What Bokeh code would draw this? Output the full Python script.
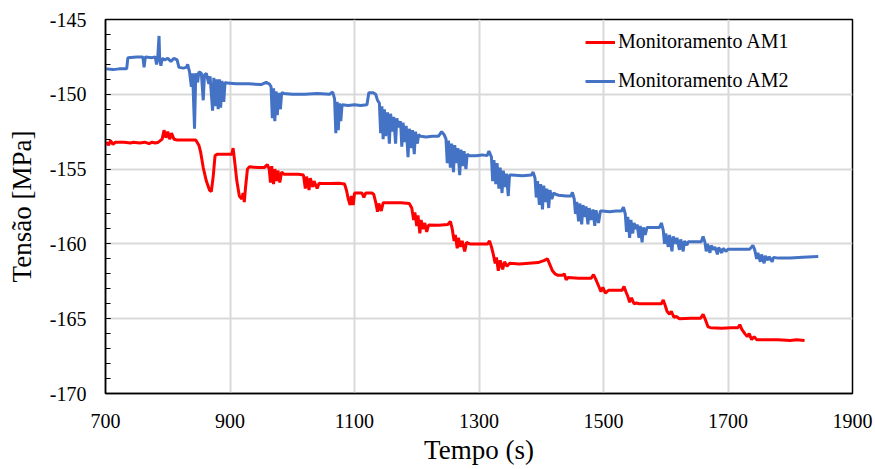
from bokeh.plotting import figure
from bokeh.models import Range1d, FixedTicker, Legend, LegendItem, CustomJSTickFormatter
from bokeh.embed import file_html
from bokeh.resources import INLINE

# ---------------- data ----------------
am1_t = [701, 705, 708, 712, 716, 730, 740, 745, 755, 763, 770, 775, 780, 785, 791, 794, 797, 800, 803, 806,
         810, 815, 830, 845, 850, 853, 857, 862, 867, 870, 873, 876, 880, 895, 903, 905, 907, 911, 915, 919,
         921, 923, 925, 928, 931, 945, 955, 960, 963, 965, 967, 970, 972, 975, 977, 980, 983, 987, 1000, 1010,
         1018, 1021, 1023, 1027, 1029, 1033, 1035, 1040, 1043, 1047, 1060, 1075, 1084, 1087, 1090, 1093, 1095, 1098, 1100, 1112,
         1115, 1118, 1128, 1131, 1134, 1137, 1139, 1143, 1146, 1160, 1175, 1188, 1192, 1195, 1197, 1200, 1202, 1205, 1207, 1210,
         1213, 1216, 1219, 1235, 1250, 1254, 1257, 1260, 1262, 1265, 1267, 1270, 1273, 1277, 1280, 1285, 1300, 1314, 1317, 1320,
         1323, 1326, 1328, 1331, 1334, 1338, 1341, 1345, 1349, 1365, 1380, 1395, 1405, 1410, 1414, 1418, 1422, 1427, 1434, 1437,
         1440, 1443, 1460, 1480, 1484, 1488, 1492, 1496, 1499, 1503, 1508, 1520, 1530, 1533, 1536, 1539, 1542, 1545, 1549, 1553,
         1557, 1570, 1585, 1593, 1596, 1599, 1602, 1606, 1609, 1613, 1617, 1622, 1640, 1656, 1660, 1664, 1668, 1672, 1690, 1705,
         1716, 1719, 1722, 1727, 1731, 1734, 1738, 1742, 1746, 1760, 1780, 1800, 1810, 1823]
am1_v = [-153.2, -153.4, -153.1, -153.35, -153.2, -153.2, -153.25, -153.2, -153.25, -153.2, -153.3, -153.2, -153.25, -153.2, -153.0, -152.4, -152.9, -152.5, -153.0, -152.6,
         -153.0, -153.05, -153.05, -153.05, -153.4, -153.9, -154.9, -155.8, -156.4, -156.5, -155.5, -154.1, -154.0, -154.0, -154.0, -153.6, -154.3, -155.8, -156.8, -157.0,
         -156.6, -157.2, -156.2, -155.0, -154.85, -154.9, -154.9, -154.7, -155.0, -155.9, -154.8, -156.0, -155.0, -155.8, -155.1, -155.9, -155.2, -155.35, -155.35, -155.35,
         -155.4, -156.3, -155.5, -156.4, -155.6, -156.2, -155.8, -156.3, -155.95, -155.97, -155.97, -155.95, -156.0, -156.4, -157.0, -157.4, -156.8, -157.4, -156.6, -156.6,
         -156.9, -156.6, -156.6, -156.7, -157.2, -157.85, -157.3, -157.8, -157.25, -157.25, -157.25, -157.3, -157.6, -158.4, -157.9, -158.8, -158.1, -159.3, -158.4, -159.0,
         -158.6, -159.2, -158.74, -158.75, -158.7, -158.5, -159.0, -159.8, -159.4, -160.3, -159.6, -160.2, -159.8, -160.5, -159.9, -160.0, -160.0, -160.0, -159.8, -160.2,
         -160.7, -161.3, -160.9, -161.8, -161.1, -161.7, -161.2, -161.5, -161.3, -161.35, -161.3, -161.25, -161.1, -161.0, -161.4, -161.8, -162.0, -162.1, -162.1, -162.0,
         -162.4, -162.25, -162.3, -162.3, -162.05, -162.4, -162.8, -163.2, -162.9, -163.3, -163.1, -163.1, -163.1, -162.85, -163.2, -163.5, -163.9, -163.6, -164.0, -163.95,
         -164.0, -164.0, -164.0, -164.0, -163.75, -164.1, -164.5, -164.7, -164.5, -164.9, -164.85, -165.0, -164.97, -164.97, -164.7, -165.1, -165.55, -165.6, -165.64, -165.6,
         -165.6, -165.4, -165.7, -166.0, -166.2, -166.0, -166.4, -166.2, -166.4, -166.4, -166.4, -166.45, -166.4, -166.45]

am2_t = [701, 712, 722, 734, 736, 750, 760, 762, 764, 775, 780, 782, 784, 786, 787, 789, 791, 795, 800, 805,
         810, 815, 818, 825, 830, 832, 835, 838, 840, 843, 845, 848, 850, 854, 857, 859, 862, 866, 868, 872,
         874, 877, 879, 881, 883, 885, 887, 890, 892, 895, 910, 930, 950, 958, 963, 966, 968, 970, 972, 974,
         976, 978, 981, 983, 987, 1000, 1020, 1040, 1060, 1065, 1068, 1070, 1072, 1074, 1076, 1078, 1080, 1090, 1100, 1110,
         1120, 1123, 1130, 1134, 1137, 1140, 1142, 1144, 1146, 1148, 1150, 1153, 1156, 1158, 1161, 1163, 1166, 1168, 1171, 1174,
         1176, 1178, 1181, 1183, 1186, 1188, 1191, 1193, 1196, 1198, 1201, 1203, 1206, 1215, 1225, 1235, 1240, 1244, 1247, 1249,
         1251, 1254, 1256, 1259, 1261, 1264, 1266, 1269, 1271, 1274, 1276, 1279, 1281, 1284, 1295, 1305, 1313, 1316, 1320, 1322,
         1324, 1327, 1329, 1332, 1334, 1337, 1339, 1342, 1344, 1347, 1349, 1352, 1370, 1384, 1387, 1390, 1392, 1394, 1397, 1399,
         1402, 1404, 1407, 1409, 1412, 1414, 1417, 1420, 1424, 1428, 1440, 1448, 1450, 1453, 1455, 1457, 1460, 1462, 1465, 1467,
         1470, 1472, 1475, 1477, 1480, 1483, 1486, 1488, 1492, 1495, 1498, 1510, 1520, 1529, 1532, 1535, 1537, 1539, 1542, 1544,
         1547, 1549, 1552, 1554, 1557, 1559, 1562, 1564, 1567, 1570, 1573, 1590, 1593, 1596, 1598, 1600, 1604, 1606, 1610, 1612,
         1616, 1618, 1622, 1624, 1628, 1630, 1634, 1636, 1657, 1660, 1663, 1665, 1667, 1671, 1673, 1677, 1679, 1683, 1685, 1690,
         1692, 1697, 1700, 1735, 1740, 1743, 1746, 1748, 1752, 1754, 1758, 1760, 1764, 1766, 1771, 1773, 1781, 1800, 1820, 1845]
am2_v = [-148.3, -148.35, -148.3, -148.3, -147.55, -147.5, -147.5, -148.2, -147.5, -147.55, -147.5, -148.0, -147.5, -146.1, -147.6, -148.1, -147.6, -147.7, -147.6, -147.8,
         -147.6, -147.7, -148.2, -148.25, -148.2, -148.0, -148.5, -149.5, -148.6, -152.3, -148.6, -149.2, -148.5, -148.6, -150.4, -148.7, -148.6, -149.3, -148.8, -151.1,
         -148.9, -150.8, -149.0, -151.0, -149.0, -150.9, -149.1, -150.5, -149.2, -149.25, -149.3, -149.3, -149.35, -149.2, -149.3, -149.5, -151.6, -149.6, -151.8, -149.8,
         -151.4, -149.9, -151.0, -149.9, -149.95, -150.0, -150.0, -149.95, -150.0, -149.85, -150.3, -152.6, -150.5, -152.4, -150.6, -151.8, -150.7, -150.75, -150.7, -150.75,
         -150.7, -149.9, -149.9, -150.0, -150.4, -150.6, -152.6, -150.8, -153.0, -151.0, -152.8, -151.2, -153.3, -151.3, -152.5, -151.5, -153.3, -151.6, -152.2, -151.8,
         -153.5, -151.9, -153.2, -152.1, -154.2, -152.3, -153.6, -152.4, -154.0, -152.5, -153.3, -152.7, -152.8, -152.85, -152.8, -152.8, -152.5, -152.7, -153.0, -154.6,
         -153.1, -154.9, -153.3, -155.2, -153.4, -154.6, -153.6, -155.4, -153.7, -154.8, -153.8, -155.0, -154.0, -154.1, -154.1, -154.05, -154.1, -153.8, -154.2, -155.8,
         -154.4, -156.0, -154.6, -156.3, -154.9, -156.6, -155.1, -156.2, -155.3, -156.8, -155.4, -155.4, -155.45, -155.4, -155.2, -155.6, -156.9, -155.8, -157.4, -156.0,
         -157.7, -156.1, -157.2, -156.3, -157.6, -156.4, -157.0, -156.6, -156.7, -156.75, -156.8, -156.8, -156.55, -157.0, -158.0, -157.2, -158.5, -157.3, -158.7, -157.4,
         -158.2, -157.5, -158.7, -157.6, -158.4, -157.7, -158.8, -157.75, -158.6, -157.8, -157.8, -157.85, -157.8, -157.8, -157.55, -158.0, -159.2, -158.2, -159.6, -158.4,
         -159.3, -158.6, -159.0, -158.7, -159.6, -158.8, -159.9, -158.9, -159.4, -158.9, -158.9, -158.9, -158.6, -159.1, -160.0, -159.3, -160.2, -159.4, -160.5, -159.5,
         -160.0, -159.6, -160.4, -159.7, -160.5, -159.8, -160.1, -159.85, -159.85, -159.5, -159.9, -160.5, -160.0, -160.6, -160.1, -160.4, -160.2, -160.7, -160.25, -160.6,
         -160.3, -160.5, -160.35, -160.35, -160.1, -160.4, -161.0, -160.6, -161.2, -160.7, -161.3, -160.8, -161.1, -160.85, -161.2, -160.9, -160.95, -160.95, -160.9, -160.85]

x_ticks = [700, 900, 1100, 1300, 1500, 1700, 1900]
y_ticks = [-170, -165, -160, -155, -150, -145]
series_names = ["Monitoramento AM1", "Monitoramento AM2"]
x_title = "Tempo (s)"
y_title = "Tensão [MPa]"

FONT = "Liberation Serif"

p = figure(width=875, height=469, output_backend="svg", toolbar_location=None,
           x_range=Range1d(700, 1900), y_range=Range1d(-170, -145),
           min_border_left=105, min_border_right=23, min_border_top=19, min_border_bottom=76)
p.background_fill_color = "white"
p.border_fill_color = "white"
p.outline_line_color = "black"
p.outline_line_width = 1.5

r1 = p.line(am1_t, am1_v, line_color="#FF0000", line_width=3)
r2 = p.line(am2_t, am2_v, line_color="#4472C4", line_width=3)

# axes
p.xaxis.ticker = FixedTicker(ticks=x_ticks)
p.yaxis.ticker = FixedTicker(ticks=y_ticks, minor_ticks=list(range(-170, -144)))
p.xaxis.formatter = CustomJSTickFormatter(code="return String(Math.round(tick));")
p.yaxis.formatter = CustomJSTickFormatter(code="return String(Math.round(tick));")

for ax in (p.xaxis[0], p.yaxis[0]):
    ax.axis_line_color = "black"
    ax.axis_line_width = 1.5
    ax.major_label_text_font = FONT
    ax.major_label_text_font_size = "20px"
    ax.major_label_text_color = "black"
    ax.axis_label_text_font = FONT
    ax.axis_label_text_font_size = "27px"
    ax.axis_label_text_font_style = "normal"
    ax.axis_label_text_color = "black"

p.xaxis.major_tick_line_color = None
p.xaxis.minor_tick_line_color = None
p.xaxis.major_label_standoff = 14
p.xaxis.axis_label = x_title
p.xaxis.axis_label_standoff = 4

p.yaxis.major_tick_in = 5
p.yaxis.major_tick_out = 0
p.yaxis.minor_tick_in = 5
p.yaxis.minor_tick_out = 0
p.yaxis.major_tick_line_color = "black"
p.yaxis.minor_tick_line_color = "black"
p.yaxis.major_tick_line_width = 1.2
p.yaxis.minor_tick_line_width = 1.2
p.yaxis.major_label_standoff = 19
p.yaxis.axis_label = y_title
p.yaxis.axis_label_standoff = 10

p.xgrid.grid_line_color = "#d9d9d9"
p.xgrid.grid_line_width = 2
p.ygrid.grid_line_color = "#d9d9d9"
p.ygrid.grid_line_width = 2

legend = Legend(items=[LegendItem(label=series_names[0], renderers=[r1]),
                       LegendItem(label=series_names[1], renderers=[r2])],
                location=(480, 301), orientation="vertical")
legend.background_fill_alpha = 0
legend.border_line_alpha = 0
legend.label_text_font = FONT
legend.label_text_font_size = "20px"
legend.label_text_color = "black"
legend.glyph_width = 30
legend.glyph_height = 20
legend.label_height = 20
legend.label_standoff = 3
legend.spacing = 16
legend.padding = 0
legend.margin = 0
p.add_layout(legend, "center")

open("out.html", "w").write(file_html(p, INLINE))
